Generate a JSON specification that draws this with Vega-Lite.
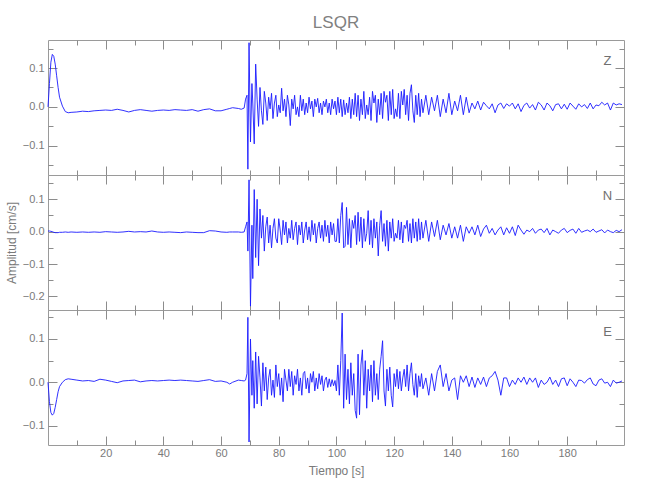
{
"$schema": "https://vega.github.io/schema/vega-lite/v6.json",
"background": "white",
"padding": {"left": 4, "right": 5, "top": 13, "bottom": 5},
"spacing": 0,
"bounds": "flush",
"config": {
  "font": "Liberation Sans Narrow, Liberation Sans",
  "view": {"stroke": "#9a9a9a", "strokeWidth": 1},
  "axis": {"domain": false, "grid": false, "tickColor": "#8c8c8c", "tickWidth": 1, "labelColor": "#7a7a7a", "titleColor": "#7a7a7a", "labelFont": "Liberation Sans Narrow, Liberation Sans", "titleFont": "Liberation Sans Narrow, Liberation Sans", "labelFontSize": 11, "titleFontSize": 12, "titleFontWeight": "normal"},
  "title": {"font": "Liberation Sans Narrow, Liberation Sans", "fontSize": 17, "fontWeight": "normal", "color": "#808080"}
},
"data": {"values": [
{"t":0,"z":0,"n":0.002,"e":0},
{"t":0.5,"z":0.06,"n":0.002,"e":-0.045},
{"t":1,"z":0.115,"n":0.001,"e":-0.07},
{"t":1.5,"z":0.135,"n":0,"e":-0.076},
{"t":2,"z":0.13,"n":-0.002,"e":-0.072},
{"t":2.5,"z":0.11,"n":-0.003,"e":-0.058},
{"t":3,"z":0.08,"n":-0.003,"e":-0.04},
{"t":3.5,"z":0.05,"n":-0.003,"e":-0.022},
{"t":4,"z":0.025,"n":-0.002,"e":-0.01},
{"t":5,"z":0.002,"n":-0.002,"e":0},
{"t":6,"z":-0.012,"n":-0.001,"e":0.006},
{"t":7,"z":-0.015,"n":-0.002,"e":0.008},
{"t":8,"z":-0.014,"n":-0.001,"e":0.007},
{"t":10,"z":-0.013,"n":-0.002,"e":0.005},
{"t":12,"z":-0.011,"n":-0.001,"e":0.003},
{"t":14,"z":-0.012,"n":-0.002,"e":0.004},
{"t":16,"z":-0.01,"n":-0.001,"e":0.002},
{"t":18,"z":-0.009,"n":-0.002,"e":0.007},
{"t":20,"z":-0.008,"n":0,"e":0.005},
{"t":22,"z":-0.009,"n":-0.001,"e":0.002},
{"t":24,"z":-0.006,"n":-0.002,"e":-0.001},
{"t":26,"z":-0.009,"n":-0.001,"e":0.003},
{"t":28,"z":-0.013,"n":0.001,"e":0.004},
{"t":30,"z":-0.009,"n":-0.001,"e":0.005},
{"t":32,"z":-0.007,"n":0,"e":0.001},
{"t":34,"z":-0.009,"n":-0.001,"e":0.003},
{"t":36,"z":-0.011,"n":0.002,"e":0.004},
{"t":38,"z":-0.009,"n":-0.001,"e":0.003},
{"t":40,"z":-0.008,"n":-0.002,"e":0.004},
{"t":42,"z":-0.009,"n":-0.001,"e":0.005},
{"t":44,"z":-0.007,"n":-0.002,"e":0.004},
{"t":46,"z":-0.008,"n":-0.003,"e":0.005},
{"t":48,"z":-0.009,"n":-0.001,"e":0.004},
{"t":50,"z":-0.007,"n":-0.002,"e":0.003},
{"t":52,"z":-0.011,"n":-0.003,"e":0.002},
{"t":54,"z":-0.007,"n":-0.003,"e":0.004},
{"t":56,"z":-0.005,"n":0.003,"e":0.006},
{"t":58,"z":-0.01,"n":0.002,"e":0.002},
{"t":60,"z":-0.01,"n":-0.001,"e":0.003},
{"t":62,"z":-0.006,"n":-0.002,"e":0},
{"t":63,"z":-0.004,"n":-0.001,"e":-0.004},
{"t":64,"z":-0.002,"n":-0.001,"e":0},
{"t":66,"z":-0.004,"n":-0.001,"e":0.005},
{"t":67,"z":-0.006,"n":-0.002,"e":0.004},
{"t":68,"z":-0.003,"n":-0.001,"e":0.003},
{"t":68.5,"z":0.02,"n":0.015,"e":0.005},
{"t":69,"z":0.03,"n":0.03,"e":0.02},
{"t":69.3,"z":-0.16,"n":-0.06,"e":0.15},
{"t":69.7,"z":0.165,"n":0.16,"e":-0.138},
{"t":70.2,"z":-0.09,"n":-0.23,"e":0.1},
{"t":70.7,"z":0.06,"n":0.02,"e":-0.03},
{"t":71,"z":0.01,"n":-0.145,"e":0.05},
{"t":71.5,"z":-0.095,"n":0.13,"e":-0.06},
{"t":72,"z":0.11,"n":-0.08,"e":0.07},
{"t":72.5,"z":0.02,"n":0.1,"e":-0.05},
{"t":73,"z":-0.05,"n":-0.105,"e":0.06},
{"t":73.5,"z":0.05,"n":0.07,"e":0.01},
{"t":74,"z":-0.01,"n":-0.02,"e":-0.055},
{"t":74.5,"z":-0.045,"n":0.05,"e":0.045},
{"t":75,"z":0.04,"n":-0.06,"e":-0.02},
{"t":75.5,"z":0.01,"n":0.015,"e":0.035},
{"t":76,"z":-0.035,"n":0.045,"e":-0.04},
{"t":76.5,"z":0.025,"n":-0.035,"e":0.01},
{"t":77,"z":-0.005,"n":0.02,"e":0.03},
{"t":77.5,"z":0.035,"n":-0.05,"e":-0.03},
{"t":78,"z":-0.03,"n":0.01,"e":0.005},
{"t":78.5,"z":0.01,"n":0.04,"e":-0.035},
{"t":79,"z":0.03,"n":-0.02,"e":0.04},
{"t":79.5,"z":-0.025,"n":-0.035,"e":-0.01},
{"t":80,"z":0.005,"n":0.04,"e":0.02},
{"t":80.5,"z":-0.015,"n":0.005,"e":-0.03},
{"t":81,"z":0.048,"n":-0.04,"e":0.01},
{"t":81.5,"z":-0.01,"n":0.035,"e":-0.045},
{"t":82,"z":0.02,"n":-0.01,"e":0.03},
{"t":82.5,"z":-0.025,"n":0.03,"e":0.005},
{"t":83,"z":0.03,"n":-0.035,"e":-0.02},
{"t":83.5,"z":0.005,"n":0.01,"e":0.03},
{"t":84,"z":-0.048,"n":-0.02,"e":-0.01},
{"t":84.5,"z":0.02,"n":0.035,"e":0.025},
{"t":85,"z":-0.005,"n":-0.025,"e":-0.03},
{"t":85.5,"z":0.03,"n":0.01,"e":0.015},
{"t":86,"z":-0.02,"n":0.03,"e":-0.005},
{"t":86.5,"z":0,"n":-0.04,"e":0.03},
{"t":87,"z":-0.025,"n":0.02,"e":-0.02},
{"t":87.5,"z":0.03,"n":-0.01,"e":0.01},
{"t":88,"z":-0.01,"n":0.03,"e":-0.03},
{"t":88.5,"z":0.02,"n":-0.035,"e":0.02},
{"t":89,"z":-0.02,"n":0.005,"e":0.025},
{"t":89.5,"z":0.01,"n":0.03,"e":-0.015},
{"t":90,"z":-0.015,"n":-0.025,"e":0.01},
{"t":90.5,"z":0.025,"n":0.015,"e":-0.025},
{"t":91,"z":-0.005,"n":-0.03,"e":0.02},
{"t":91.5,"z":0.015,"n":0.035,"e":0},
{"t":92,"z":-0.025,"n":-0.01,"e":0.025},
{"t":92.5,"z":0.02,"n":0.025,"e":-0.02},
{"t":93,"z":0,"n":-0.035,"e":0.01},
{"t":93.5,"z":0.022,"n":0.01,"e":-0.015},
{"t":94,"z":-0.015,"n":0.03,"e":0.02},
{"t":94.5,"z":0.01,"n":-0.02,"e":-0.005},
{"t":95,"z":-0.02,"n":0.02,"e":0.015},
{"t":95.5,"z":0.015,"n":-0.03,"e":-0.02},
{"t":96,"z":0,"n":0.035,"e":0.005},
{"t":96.5,"z":0.02,"n":-0.015,"e":0.012},
{"t":97,"z":-0.015,"n":0.02,"e":-0.012},
{"t":97.5,"z":0.01,"n":-0.035,"e":0.008},
{"t":98,"z":-0.02,"n":0.03,"e":-0.01},
{"t":98.5,"z":0.02,"n":-0.01,"e":0.006},
{"t":99,"z":-0.005,"n":0.025,"e":-0.008},
{"t":99.5,"z":0.015,"n":-0.03,"e":0.004},
{"t":100,"z":-0.02,"n":-0.03,"e":-0.02},
{"t":100.5,"z":0.025,"n":0.04,"e":0.04},
{"t":101,"z":-0.015,"n":-0.035,"e":-0.03},
{"t":101.5,"z":0.02,"n":0.05,"e":0.05},
{"t":102,"z":-0.025,"n":0.09,"e":0.16},
{"t":102.5,"z":0.018,"n":-0.05,"e":-0.06},
{"t":103,"z":-0.02,"n":-0.045,"e":0.065},
{"t":103.5,"z":0.01,"n":0.075,"e":-0.04},
{"t":104,"z":-0.015,"n":-0.04,"e":0.03},
{"t":104.5,"z":0.025,"n":0.04,"e":-0.05},
{"t":105,"z":-0.03,"n":-0.05,"e":0.045},
{"t":105.5,"z":0.02,"n":0.035,"e":-0.03},
{"t":106,"z":-0.02,"n":0.01,"e":0.02},
{"t":106.5,"z":0.035,"n":0.05,"e":-0.065},
{"t":107,"z":-0.025,"n":-0.04,"e":-0.083},
{"t":107.5,"z":0.03,"n":0.06,"e":0.065},
{"t":108,"z":-0.035,"n":-0.03,"e":-0.075},
{"t":108.5,"z":0.02,"n":0.045,"e":0.04},
{"t":109,"z":-0.02,"n":-0.05,"e":0.075},
{"t":109.5,"z":0.04,"n":0.04,"e":-0.03},
{"t":110,"z":-0.03,"n":-0.03,"e":0.05},
{"t":110.5,"z":0.005,"n":-0.005,"e":-0.06},
{"t":111,"z":-0.02,"n":0.065,"e":0.03},
{"t":111.5,"z":0.025,"n":-0.04,"e":-0.02},
{"t":112,"z":-0.035,"n":0.035,"e":0.04},
{"t":112.5,"z":0.04,"n":-0.05,"e":-0.045},
{"t":113,"z":0.01,"n":0.04,"e":0.05},
{"t":113.5,"z":0.03,"n":-0.02,"e":-0.03},
{"t":114,"z":-0.04,"n":0.03,"e":0.02},
{"t":114.5,"z":0.02,"n":-0.075,"e":-0.04},
{"t":115,"z":-0.02,"n":0.02,"e":0.03},
{"t":115.5,"z":0.035,"n":0.065,"e":0.06},
{"t":116,"z":-0.03,"n":-0.03,"e":0.096},
{"t":116.5,"z":0.04,"n":0.025,"e":-0.02},
{"t":117,"z":0.012,"n":-0.045,"e":-0.055},
{"t":117.5,"z":0.03,"n":0.035,"e":0.03},
{"t":118,"z":-0.035,"n":-0.06,"e":-0.02},
{"t":118.5,"z":0.04,"n":0.03,"e":0.035},
{"t":119,"z":-0.02,"n":-0.02,"e":-0.03},
{"t":119.5,"z":0.045,"n":0.04,"e":-0.057},
{"t":120,"z":-0.03,"n":-0.03,"e":0.02},
{"t":120.5,"z":-0.005,"n":-0.005,"e":-0.01},
{"t":121,"z":-0.025,"n":-0.02,"e":0.03},
{"t":121.5,"z":0.035,"n":0.035,"e":-0.015},
{"t":122,"z":-0.03,"n":-0.025,"e":0.025},
{"t":122.5,"z":0.04,"n":0.03,"e":-0.02},
{"t":123,"z":0.005,"n":-0.035,"e":0.01},
{"t":123.5,"z":0.045,"n":0.02,"e":0.03},
{"t":124,"z":-0.02,"n":0.01,"e":-0.01},
{"t":124.5,"z":0.03,"n":0.035,"e":0.04},
{"t":125,"z":-0.035,"n":-0.03,"e":-0.02},
{"t":125.5,"z":0.035,"n":0.025,"e":0.02},
{"t":126,"z":0.057,"n":-0.035,"e":0.045},
{"t":126.5,"z":-0.01,"n":0.04,"e":-0.005},
{"t":127,"z":-0.04,"n":-0.02,"e":-0.03},
{"t":127.5,"z":0.03,"n":0.03,"e":0.02},
{"t":128,"z":-0.02,"n":-0.03,"e":-0.035},
{"t":128.5,"z":0.035,"n":0.04,"e":0.015},
{"t":129,"z":-0.025,"n":-0.025,"e":-0.01},
{"t":129.5,"z":0.02,"n":0.03,"e":0.02},
{"t":130,"z":-0.015,"n":-0.02,"e":-0.015},
{"t":131,"z":0.03,"n":0.035,"e":0.01},
{"t":132,"z":-0.02,"n":-0.03,"e":-0.03},
{"t":133,"z":0.025,"n":0.03,"e":0.02},
{"t":134,"z":-0.01,"n":-0.015,"e":-0.02},
{"t":135,"z":0.03,"n":0.035,"e":0.025},
{"t":136,"z":-0.025,"n":-0.025,"e":0.04},
{"t":137,"z":0.02,"n":0.02,"e":-0.01},
{"t":138,"z":-0.015,"n":-0.01,"e":0.02},
{"t":139,"z":0.035,"n":0.025,"e":-0.02},
{"t":140,"z":-0.02,"n":-0.02,"e":0.005},
{"t":141,"z":0.015,"n":0.015,"e":0.01},
{"t":142,"z":-0.01,"n":-0.02,"e":-0.04},
{"t":143,"z":0.03,"n":0.02,"e":0.015},
{"t":144,"z":-0.02,"n":-0.03,"e":0},
{"t":145,"z":0.025,"n":0.015,"e":0.015},
{"t":146,"z":-0.015,"n":-0.005,"e":-0.01},
{"t":147,"z":0.01,"n":0.015,"e":0.012},
{"t":148,"z":-0.005,"n":-0.01,"e":-0.012},
{"t":149,"z":0.015,"n":0.02,"e":0.01},
{"t":150,"z":-0.008,"n":-0.015,"e":-0.005},
{"t":151,"z":0.012,"n":0.008,"e":0.012},
{"t":152,"z":0.003,"n":0.02,"e":-0.01},
{"t":153,"z":-0.005,"n":-0.005,"e":0.01},
{"t":154,"z":0.008,"n":0.01,"e":0.015},
{"t":155,"z":-0.015,"n":-0.01,"e":0.025},
{"t":156,"z":0.005,"n":0.005,"e":0.005},
{"t":157,"z":0.01,"n":0.015,"e":-0.03},
{"t":158,"z":-0.004,"n":-0.01,"e":0.01},
{"t":159,"z":0.008,"n":0.012,"e":0.01},
{"t":160,"z":0.002,"n":-0.005,"e":-0.01},
{"t":161,"z":0.01,"n":0.015,"e":0.005},
{"t":162,"z":-0.005,"n":-0.012,"e":-0.005},
{"t":163,"z":0.008,"n":0.02,"e":0.01},
{"t":164,"z":-0.012,"n":0.005,"e":0},
{"t":165,"z":0.004,"n":-0.008,"e":0.012},
{"t":166,"z":0.01,"n":0.005,"e":-0.005},
{"t":167,"z":-0.003,"n":0,"e":0.01},
{"t":168,"z":0.006,"n":0.01,"e":0},
{"t":169,"z":-0.008,"n":-0.005,"e":0.01},
{"t":170,"z":0.012,"n":0.005,"e":-0.012},
{"t":171,"z":0.005,"n":0.008,"e":0.005},
{"t":172,"z":-0.008,"n":-0.003,"e":-0.005},
{"t":173,"z":0.01,"n":0.01,"e":0},
{"t":174,"z":0.003,"n":-0.01,"e":0.012},
{"t":175,"z":-0.01,"n":0.005,"e":-0.005},
{"t":176,"z":0.006,"n":0,"e":0.005},
{"t":177,"z":0.008,"n":-0.005,"e":-0.01},
{"t":178,"z":-0.005,"n":0.005,"e":0.008},
{"t":179,"z":0.007,"n":0.01,"e":0.01},
{"t":180,"z":-0.006,"n":-0.003,"e":-0.008},
{"t":181,"z":0.01,"n":0.004,"e":0.008},
{"t":182,"z":0.002,"n":0.008,"e":0},
{"t":183,"z":-0.006,"n":-0.005,"e":-0.01},
{"t":184,"z":0.008,"n":0.01,"e":0.005},
{"t":185,"z":0,"n":-0.002,"e":0.004},
{"t":186,"z":0.006,"n":0.002,"e":-0.002},
{"t":187,"z":-0.004,"n":0.005,"e":0.006},
{"t":188,"z":0.01,"n":0,"e":0.01},
{"t":189,"z":-0.005,"n":0.008,"e":-0.004},
{"t":190,"z":0.005,"n":-0.002,"e":-0.008},
{"t":191,"z":0.003,"n":0.002,"e":0.005},
{"t":192,"z":0.012,"n":0.006,"e":0.008},
{"t":193,"z":0.005,"n":-0.004,"e":-0.002},
{"t":194,"z":0.01,"n":0.005,"e":0},
{"t":195,"z":-0.008,"n":0,"e":-0.01},
{"t":196,"z":0.01,"n":-0.003,"e":0.005},
{"t":197,"z":0.005,"n":0.004,"e":-0.002},
{"t":198,"z":0.008,"n":0,"e":0},
{"t":199,"z":0.006,"n":0.006,"e":0.003}
]},
"vconcat": [
{
  "width": 576, "height": 135,
  "title": {"text": "LSQR", "frame": "group", "anchor": "middle", "offset": 8},
  "layer": [
    {"mark": {"type": "line", "color": "#1a1aff", "strokeWidth": 0.9},
     "encoding": {
       "x": {"field": "t", "type": "quantitative", "scale": {"domain": [0, 199.7], "nice": false, "zero": false},
             "axis": {"orient": "bottom", "values": [20,40,60,80,100,120,140,160,180], "tickSize": 9, "offset": -9, "labels": false, "title": null}},
       "y": {"field": "z", "type": "quantitative", "scale": {"domain": [-0.175, 0.172], "nice": false, "zero": false},
             "axis": {"orient": "left", "values": [-0.1, 0, 0.1], "format": ".1f", "tickSize": 9, "offset": -9, "labelPadding": 4, "title": null}}
     }},
    {"mark": {"type": "line", "strokeOpacity": 0},
     "encoding": {
       "x": {"field": "t", "type": "quantitative", "scale": {"domain": [0, 199.7], "nice": false, "zero": false},
             "axis": {"orient": "bottom", "values": [10,30,50,70,90,110,130,150,170,190], "tickSize": 5, "offset": -5, "labels": false, "title": null}},
       "y": {"field": "z", "type": "quantitative", "scale": {"domain": [-0.175, 0.172], "nice": false, "zero": false},
             "axis": {"orient": "left", "values": [-0.15, -0.05, 0.05, 0.15], "tickSize": 5, "offset": -5, "labels": false, "title": null}}
     }},
    {"mark": {"type": "line", "strokeOpacity": 0},
     "encoding": {
       "x": {"field": "t", "type": "quantitative", "scale": {"domain": [0, 199.7], "nice": false, "zero": false},
             "axis": {"orient": "top", "values": [20,40,60,80,100,120,140,160,180], "tickSize": 9, "offset": -9, "labels": false, "title": null}},
       "y": {"field": "z", "type": "quantitative", "scale": {"domain": [-0.175, 0.172], "nice": false, "zero": false},
             "axis": {"orient": "right", "values": [-0.1, 0, 0.1], "tickSize": 9, "offset": -9, "labels": false, "title": null}}
     }},
    {"mark": {"type": "line", "strokeOpacity": 0},
     "encoding": {
       "x": {"field": "t", "type": "quantitative", "scale": {"domain": [0, 199.7], "nice": false, "zero": false},
             "axis": {"orient": "top", "values": [10,30,50,70,90,110,130,150,170,190], "tickSize": 5, "offset": -5, "labels": false, "title": null}},
       "y": {"field": "z", "type": "quantitative", "scale": {"domain": [-0.175, 0.172], "nice": false, "zero": false},
             "axis": {"orient": "right", "values": [-0.15, -0.05, 0.05, 0.15], "tickSize": 5, "offset": -5, "labels": false, "title": null}}
     }},
    {"data": {"values": [{"lab": "Z"}]},
     "mark": {"type": "text", "fontSize": 13, "color": "#707070"},
     "encoding": {
       "x": {"datum": 194, "type": "quantitative", "scale": {"domain": [0, 199.7], "nice": false, "zero": false}, "axis": null},
       "y": {"datum": 0.119, "type": "quantitative", "scale": {"domain": [-0.175, 0.172], "nice": false, "zero": false}, "axis": null},
       "text": {"field": "lab"}
     }}
  ],
  "resolve": {"axis": {"x": "independent", "y": "independent"}}
},
{
  "width": 576, "height": 135,
  "layer": [
    {"mark": {"type": "line", "color": "#1a1aff", "strokeWidth": 0.9},
     "encoding": {
       "x": {"field": "t", "type": "quantitative", "scale": {"domain": [0, 199.7], "nice": false, "zero": false},
             "axis": {"orient": "bottom", "values": [20,40,60,80,100,120,140,160,180], "tickSize": 9, "offset": -9, "labels": false, "title": null}},
       "y": {"field": "n", "type": "quantitative", "scale": {"domain": [-0.242, 0.175], "nice": false, "zero": false},
             "axis": {"orient": "left", "values": [-0.2, -0.1, 0, 0.1], "format": ".1f", "tickSize": 9, "offset": -9, "labelPadding": 4, "title": "Amplitud  [cm/s]", "titlePadding": 4}}
     }},
    {"mark": {"type": "line", "strokeOpacity": 0},
     "encoding": {
       "x": {"field": "t", "type": "quantitative", "scale": {"domain": [0, 199.7], "nice": false, "zero": false},
             "axis": {"orient": "bottom", "values": [10,30,50,70,90,110,130,150,170,190], "tickSize": 5, "offset": -5, "labels": false, "title": null}},
       "y": {"field": "n", "type": "quantitative", "scale": {"domain": [-0.242, 0.175], "nice": false, "zero": false},
             "axis": {"orient": "left", "values": [-0.15, -0.05, 0.05, 0.15], "tickSize": 5, "offset": -5, "labels": false, "title": null}}
     }},
    {"mark": {"type": "line", "strokeOpacity": 0},
     "encoding": {
       "x": {"field": "t", "type": "quantitative", "scale": {"domain": [0, 199.7], "nice": false, "zero": false},
             "axis": {"orient": "top", "values": [20,40,60,80,100,120,140,160,180], "tickSize": 9, "offset": -9, "labels": false, "title": null}},
       "y": {"field": "n", "type": "quantitative", "scale": {"domain": [-0.242, 0.175], "nice": false, "zero": false},
             "axis": {"orient": "right", "values": [-0.2, -0.1, 0, 0.1], "tickSize": 9, "offset": -9, "labels": false, "title": null}}
     }},
    {"mark": {"type": "line", "strokeOpacity": 0},
     "encoding": {
       "x": {"field": "t", "type": "quantitative", "scale": {"domain": [0, 199.7], "nice": false, "zero": false},
             "axis": {"orient": "top", "values": [10,30,50,70,90,110,130,150,170,190], "tickSize": 5, "offset": -5, "labels": false, "title": null}},
       "y": {"field": "n", "type": "quantitative", "scale": {"domain": [-0.242, 0.175], "nice": false, "zero": false},
             "axis": {"orient": "right", "values": [-0.15, -0.05, 0.05, 0.15], "tickSize": 5, "offset": -5, "labels": false, "title": null}}
     }},
    {"data": {"values": [{"lab": "N"}]},
     "mark": {"type": "text", "fontSize": 13, "color": "#707070"},
     "encoding": {
       "x": {"datum": 194, "type": "quantitative", "scale": {"domain": [0, 199.7], "nice": false, "zero": false}, "axis": null},
       "y": {"datum": 0.11, "type": "quantitative", "scale": {"domain": [-0.242, 0.175], "nice": false, "zero": false}, "axis": null},
       "text": {"field": "lab"}
     }}
  ],
  "resolve": {"axis": {"x": "independent", "y": "independent"}}
},
{
  "width": 576, "height": 135,
  "layer": [
    {"mark": {"type": "line", "color": "#1a1aff", "strokeWidth": 0.9},
     "encoding": {
       "x": {"field": "t", "type": "quantitative", "scale": {"domain": [0, 199.7], "nice": false, "zero": false},
             "axis": {"orient": "bottom", "values": [20,40,60,80,100,120,140,160,180], "tickSize": 9, "offset": -9, "labelPadding": 2, "title": "Tiempo  [s]", "titlePadding": 7}},
       "y": {"field": "e", "type": "quantitative", "scale": {"domain": [-0.145, 0.167], "nice": false, "zero": false},
             "axis": {"orient": "left", "values": [-0.1, 0, 0.1], "format": ".1f", "tickSize": 9, "offset": -9, "labelPadding": 4, "title": null}}
     }},
    {"mark": {"type": "line", "strokeOpacity": 0},
     "encoding": {
       "x": {"field": "t", "type": "quantitative", "scale": {"domain": [0, 199.7], "nice": false, "zero": false},
             "axis": {"orient": "bottom", "values": [10,30,50,70,90,110,130,150,170,190], "tickSize": 5, "offset": -5, "labels": false, "title": null}},
       "y": {"field": "e", "type": "quantitative", "scale": {"domain": [-0.145, 0.167], "nice": false, "zero": false},
             "axis": {"orient": "left", "values": [-0.05, 0.05, 0.15], "tickSize": 5, "offset": -5, "labels": false, "title": null}}
     }},
    {"mark": {"type": "line", "strokeOpacity": 0},
     "encoding": {
       "x": {"field": "t", "type": "quantitative", "scale": {"domain": [0, 199.7], "nice": false, "zero": false},
             "axis": {"orient": "top", "values": [20,40,60,80,100,120,140,160,180], "tickSize": 9, "offset": -9, "labels": false, "title": null}},
       "y": {"field": "e", "type": "quantitative", "scale": {"domain": [-0.145, 0.167], "nice": false, "zero": false},
             "axis": {"orient": "right", "values": [-0.1, 0, 0.1], "tickSize": 9, "offset": -9, "labels": false, "title": null}}
     }},
    {"mark": {"type": "line", "strokeOpacity": 0},
     "encoding": {
       "x": {"field": "t", "type": "quantitative", "scale": {"domain": [0, 199.7], "nice": false, "zero": false},
             "axis": {"orient": "top", "values": [10,30,50,70,90,110,130,150,170,190], "tickSize": 5, "offset": -5, "labels": false, "title": null}},
       "y": {"field": "e", "type": "quantitative", "scale": {"domain": [-0.145, 0.167], "nice": false, "zero": false},
             "axis": {"orient": "right", "values": [-0.05, 0.05, 0.15], "tickSize": 5, "offset": -5, "labels": false, "title": null}}
     }},
    {"data": {"values": [{"lab": "E"}]},
     "mark": {"type": "text", "fontSize": 13, "color": "#707070"},
     "encoding": {
       "x": {"datum": 194, "type": "quantitative", "scale": {"domain": [0, 199.7], "nice": false, "zero": false}, "axis": null},
       "y": {"datum": 0.117, "type": "quantitative", "scale": {"domain": [-0.145, 0.167], "nice": false, "zero": false}, "axis": null},
       "text": {"field": "lab"}
     }}
  ],
  "resolve": {"axis": {"x": "independent", "y": "independent"}}
}
]
}
